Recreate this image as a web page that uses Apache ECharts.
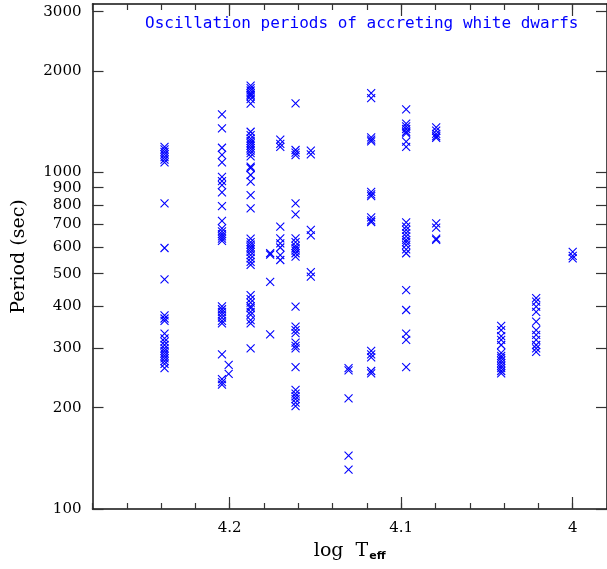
<!DOCTYPE html>
<html><head><meta charset="utf-8">
<script src="https://cdn.jsdelivr.net/npm/echarts@6.0.0/dist/echarts.min.js"></script>
<style>html,body{margin:0;padding:0;background:#fff}#c{width:607px;height:569px}</style>
</head><body><div id="c"></div>
<script>
// log Teff of each star (column)
const logTeff = [4.238, 4.2045, 4.2006, 4.1878, 4.1764, 4.1705, 4.1616, 4.1527, 4.1307, 4.1175, 4.0971, 4.0796, 4.0417, 4.0213, 4.0000];
// periods (sec) for each star
const pA = [1190, 1170, 1150, 1130, 1110, 1090, 1070, 809, 596, 481, 376, 368, 362, 332, 321, 314, 307, 300, 295, 290, 285, 280, 275, 270, 262];
const pB = [1486, 1351, 1183, 1126, 1071, 970, 942, 916, 872, 794, 718, 682, 668, 655, 645, 635, 626, 400, 392, 385, 378, 370, 362, 356, 288, 243, 238, 234];
const pB2 = [268, 252];
const pC = [1810, 1780, 1750, 1720, 1700, 1680, 1650, 1600, 1320, 1290, 1260, 1240, 1220, 1200, 1180, 1160, 1140, 1115, 1040, 1030, 982, 938, 856, 782, 635, 620, 610, 600, 590, 580, 568, 555, 542, 531, 432, 420, 410, 400, 395, 385, 377, 364, 356, 300];
const pD1 = [575, 570, 473, 330];
const pD2 = [1250, 1215, 1190, 690, 637, 615, 598, 568, 549];
const pE = [1603, 1165, 1145, 1125, 809, 750, 637, 620, 605, 595, 585, 575, 562, 399, 348, 340, 333, 312, 305, 300, 264, 226, 220, 216, 212, 207, 202];
const pF = [1160, 1130, 675, 650, 505, 490];
const pG = [262, 258, 213, 144, 131];
const pH = [1720, 1660, 1270, 1250, 1235, 875, 860, 850, 735, 720, 712, 295, 288, 282, 257, 253];
const pI = [1539, 1395, 1370, 1345, 1320, 1305, 1233, 1191, 710, 690, 675, 660, 645, 630, 620, 608, 590, 575, 447, 390, 332, 318, 264];
const pJ = [1360, 1330, 1300, 1280, 1265, 705, 685, 635, 630];
const pK = [350, 340, 326, 318, 307, 291, 285, 281, 276, 271, 266, 262, 257, 253];
const pL = [423, 413, 399, 385, 360, 340, 329, 318, 307, 300, 293];
const pM = [580, 565, 555];
const starPeriods = [pA, pB, pB2, pC, pD1, pD2, pE, pF, pG, pH, pI, pJ, pK, pL, pM];

// axis tick labels
const yTickLabels = [100, 200, 300, 400, 500, 600, 700, 800, 900, 1000, 2000, 3000];
const xTickLabels = [4.0, 4.1, 4.2];
const titleText = 'Oscillation periods of accreting white dwarfs';

const points = [];
starPeriods.forEach((arr, i) => arr.forEach(p => points.push([logTeff[i], Math.log10(p)])));

const yTickVals = yTickLabels.map(v => Math.log10(v));
const xMinor = [];
for (let k = 199; k <= 214; k++) xMinor.push(+(k * 0.02).toFixed(2));

const lineStyle = { color: '#111', width: 1.5 };
const tickStyle = { color: '#333', width: 1.2 };
const serif = 'DejaVu Serif';

function xAx(pos, major, withLabel) {
  const a = {
    type: 'value', position: pos, min: 3.98, max: 4.28, inverse: true,
    splitLine: { show: false },
    axisLine: { show: major, onZero: false, lineStyle: lineStyle },
    axisTick: { show: true, inside: true, length: major ? 12 : 6, customValues: major ? xTickLabels : xMinor, lineStyle: tickStyle },
    axisLabel: { show: !!withLabel, customValues: xTickLabels, margin: 12,
      formatter: v => (Math.abs(v - 4) < 1e-9 ? '4' : v.toFixed(1)),
      fontFamily: serif, fontSize: 15, color: '#000' }
  };
  if (withLabel) {
    a.name = '{a|log  T}{b|eff}';
    a.nameLocation = 'middle';
    a.nameGap = 30;
    a.nameTextStyle = {
      rich: {
        a: { fontFamily: serif, fontSize: 19, color: '#000', lineHeight: 22 },
        b: { fontFamily: 'DejaVu Sans', fontWeight: 'bold', fontSize: 11, color: '#000', lineHeight: 22, verticalAlign: 'bottom', padding: [10, 0, 0, 1] }
      }
    };
  }
  return a;
}
function yAx(pos, withLabel) {
  const a = {
    type: 'value', position: pos, min: 2, max: 3.5,
    splitLine: { show: false },
    axisLine: { show: true, onZero: false, lineStyle: lineStyle },
    axisTick: { show: true, inside: true, length: 11, customValues: yTickVals, lineStyle: tickStyle },
    axisLabel: { show: !!withLabel, customValues: yTickVals, margin: 11,
      formatter: v => String(Math.round(Math.pow(10, v))),
      fontFamily: serif, fontSize: 15, color: '#000' }
  };
  if (withLabel) {
    a.name = 'Period (sec)';
    a.nameLocation = 'middle';
    a.nameRotate = 90;
    a.nameGap = 64;
    a.nameTextStyle = { fontFamily: serif, fontSize: 19, color: '#000' };
  }
  return a;
}

const chart = echarts.init(document.getElementById('c'), null, { renderer: 'canvas' });
chart.setOption({
  animation: false,
  backgroundColor: '#fff',
  title: { text: titleText, left: 145, top: 16, padding: 0,
    textStyle: { fontFamily: 'DejaVu Sans Mono', fontSize: 16, fontWeight: 'normal', color: '#0000ff' } },
  grid: { left: 92.5, top: 4, width: 515, height: 505, containLabel: false },
  xAxis: [xAx('bottom', true, true), xAx('bottom', false), xAx('top', true), xAx('top', false)],
  yAxis: [yAx('left', true), yAx('right', false)],
  series: [{
    type: 'scatter', xAxisIndex: 0, yAxisIndex: 0,
    symbol: 'path://M0,0L10,10M10,0L0,10', symbolSize: 8,
    itemStyle: { color: 'rgba(0,0,0,0)', borderColor: '#0000ff', borderWidth: 1.1, opacity: 1 },
    data: points
  }]
});
</script></body></html>
